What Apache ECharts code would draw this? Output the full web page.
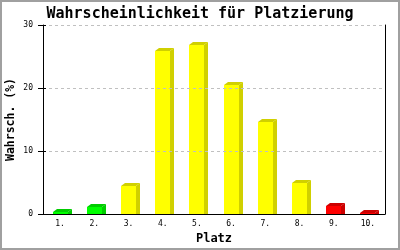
<!DOCTYPE html>
<html>
<head>
<meta charset="utf-8">
<script src="https://cdn.jsdelivr.net/npm/echarts@6/dist/echarts.min.js"></script>
<style>
html,body{margin:0;padding:0;background:#fff;}
#wrap{position:relative;width:400px;height:250px;}
#chart{width:400px;height:250px;}
#frame{position:absolute;left:0;top:0;width:400px;height:250px;box-sizing:border-box;border:2px solid #a0a0a0;pointer-events:none;}
</style>
</head>
<body>
<div id="wrap"><div id="chart"></div><div id="frame"></div></div>
<script>
const categories = ['1.', '2.', '3.', '4.', '5.', '6.', '7.', '8.', '9.', '10.'];
const greenValues  = [0.3, 1.1, null, null, null, null, null, null, null, null];
const yellowValues = [null, null, 4.4, 25.9, 26.8, 20.5, 14.6, 4.9, null, null];
const redValues    = [null, null, null, null, null, null, null, null, 1.3, 0.1];
const yTicks = [0, 10, 20, 30];

const chart = echarts.init(document.getElementById('chart'), null, {renderer: 'canvas'});

function makeRender(front, shade) {
  return function (params, api) {
    const v = api.value(1);
    if (v == null || isNaN(v)) return null;
    const base = api.coord([api.value(0), 0]);
    const top = api.coord([api.value(0), v]);
    const cw = api.size([1, 0])[0];
    const w = Math.round(cw * 0.44);
    const dx = 4, dy = 3;
    const x0 = Math.round(base[0] - 7.5);
    const yb = Math.round(base[1]);
    const yt = Math.round(top[1]);
    return {
      type: 'group',
      children: [
        {type: 'polygon', shape: {points: [[x0 + w, yt], [x0 + w + dx, yt - dy], [x0 + w + dx, yb], [x0 + w, yb]]}, style: {fill: shade}},
        {type: 'polygon', shape: {points: [[x0, yt], [x0 + dx, yt - dy], [x0 + w + dx, yt - dy], [x0 + w, yt]]}, style: {fill: shade}},
        {type: 'rect', shape: {x: x0, y: yt, width: w, height: yb - yt}, style: {fill: front}}
      ]
    };
  };
}

function toData(arr) {
  return arr.map((v, i) => [i, v]).filter(d => d[1] != null);
}

const mono = '"DejaVu Sans Mono", "Liberation Mono", monospace';

chart.setOption({
  animation: false,
  backgroundColor: '#ffffff',
  title: {
    text: 'Wahrscheinlichkeit für Platzierung',
    left: 'center',
    top: 2,
    textStyle: {fontFamily: mono, fontWeight: 'bold', fontSize: 15, color: '#000'}
  },
  grid: {left: 43, right: 15, top: 25, bottom: 36, outerBoundsMode: 'none', containLabel: false},
  xAxis: {
    type: 'category',
    data: categories,
    z: 10,
    name: 'Platz',
    nameLocation: 'middle',
    nameGap: 19,
    nameMoveOverlap: false,
    nameTextStyle: {fontFamily: mono, fontWeight: 'bold', fontSize: 12, color: '#000'},
    axisLine: {lineStyle: {color: '#000', width: 1}},
    axisTick: {show: false},
    axisLabel: {fontFamily: mono, fontSize: 8, color: '#000', margin: 6},
    splitLine: {show: false}
  },
  yAxis: [
    {
      type: 'value',
      min: 0, max: 30, interval: 10,
      z: 10,
      name: 'Wahrsch. (%)',
      nameLocation: 'middle',
      nameGap: 26,
      nameMoveOverlap: false,
      nameTextStyle: {fontFamily: mono, fontWeight: 'bold', fontSize: 11.5, color: '#000'},
      axisLine: {show: true, lineStyle: {color: '#000', width: 1}},
      axisTick: {show: true, length: 5, lineStyle: {color: '#000'}},
      axisLabel: {fontFamily: mono, fontSize: 8, color: '#000', margin: 10,
        formatter: v => yTicks.includes(v) ? String(v) : ''},
      splitLine: {show: true, lineStyle: {color: '#c0c0c0', type: [3, 3], width: 1}}
    },
    {
      type: 'value', position: 'left',
      min: 0, max: 30, interval: 10, z: 10,
      axisLine: {show: false},
      axisTick: {show: true, inside: true, length: 3, lineStyle: {color: '#000'}},
      axisLabel: {show: false},
      splitLine: {show: false}
    },
    {
      type: 'value', position: 'right',
      min: 0, max: 30, interval: 10, z: 10,
      axisLine: {show: true, lineStyle: {color: '#000', width: 1}},
      axisTick: {show: false},
      axisLabel: {show: false},
      splitLine: {show: false}
    }
  ],
  series: [
    {type: 'custom', renderItem: makeRender('#00ff00', '#00cc00'), data: toData(greenValues), encode: {x: 0, y: 1}},
    {type: 'custom', renderItem: makeRender('#ffff00', '#d0d000'), data: toData(yellowValues), encode: {x: 0, y: 1}},
    {type: 'custom', renderItem: makeRender('#ff0000', '#cc0000'), data: toData(redValues), encode: {x: 0, y: 1}}
  ]
});
</script>
</body>
</html>
